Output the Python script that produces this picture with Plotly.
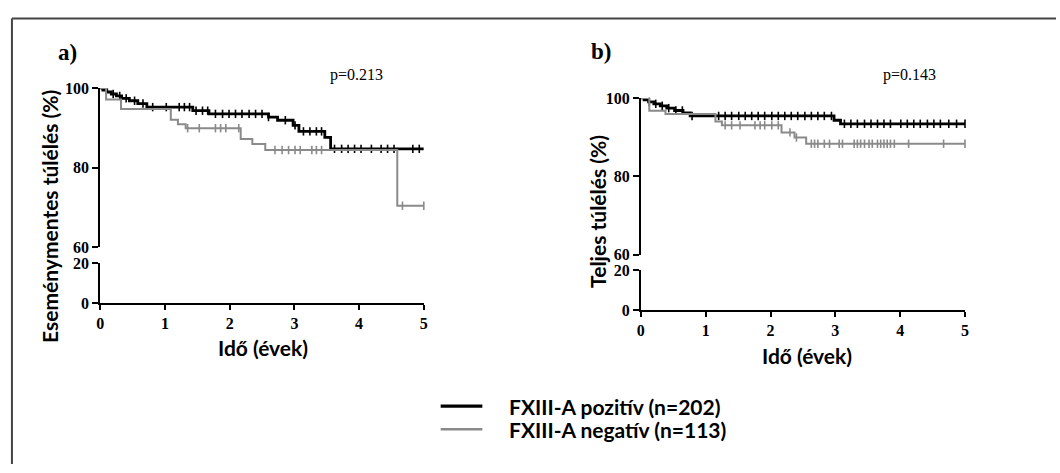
import numpy as np
import plotly.graph_objects as go

W, H = 1060, 473

# ---- Kaplan-Meier step data (time in years, survival in %) ----
# a) event-free survival
a_pos_t = [0, 0.04, 0.10, 0.17, 0.25, 0.33, 0.45, 0.58, 0.72, 1.43, 1.68, 2.60, 2.74, 2.98, 3.07, 3.47, 3.56]
a_pos_s = [100, 99.5, 99.0, 98.5, 98.0, 97.4, 96.8, 96.1, 95.2, 94.3, 93.5, 92.7, 91.9, 90.6, 89.1, 87.6, 84.7]
a_neg_t = [0, 0.09, 0.32, 1.09, 1.20, 1.32, 2.17, 2.35, 2.55, 4.59]
a_neg_s = [100, 97.1, 94.7, 92.0, 90.9, 89.9, 87.2, 85.9, 84.4, 70.4]
a_pos_cens = [0.20, 0.30, 0.40, 0.53, 0.66, 0.81, 1.02, 1.22, 1.30, 1.38, 1.48, 1.58, 1.66, 1.78,
              1.89, 1.99, 2.09, 2.19, 2.30, 2.40, 2.50, 2.60, 2.86, 3.01, 3.14, 3.24, 3.34, 3.42,
              3.62, 3.73, 3.83, 3.93, 4.03, 4.19, 4.34, 4.44, 4.54, 4.83, 4.93]
a_neg_cens = [1.35, 1.53, 1.78, 1.86, 1.94, 2.14, 2.70, 2.81, 2.91, 3.01, 3.09, 3.27, 3.34, 3.42,
              4.67, 5.0]

# b) overall survival
b_pos_t = [0, 0.05, 0.12, 0.20, 0.30, 0.40, 0.52, 0.65, 0.76, 2.98, 3.08]
b_pos_s = [100, 99.5, 99.0, 98.5, 98.0, 97.4, 96.8, 96.2, 95.4, 94.3, 93.4]
b_neg_t = [0, 0.13, 0.38, 1.15, 1.25, 2.17, 2.37, 2.55]
b_neg_s = [100, 96.7, 95.9, 94.0, 93.0, 91.2, 89.9, 88.3]
b_pos_cens = [0.13, 0.23, 0.33, 0.43, 0.54, 0.64, 0.79, 1.20, 1.30, 1.40, 1.51, 1.61, 1.71, 1.81,
              1.91, 2.02, 2.12, 2.22, 2.32, 2.42, 2.53, 2.63, 2.73, 2.83, 2.94, 3.14, 3.24, 3.34,
              3.45, 3.55, 3.65, 3.75, 3.85, 4.01, 4.11, 4.21, 4.31, 4.42, 4.52, 4.62, 4.75, 4.87, 5.0]
b_neg_cens = [1.30, 1.40, 1.53, 1.76, 1.84, 1.91, 2.02, 2.12, 2.30, 2.40, 2.63, 2.68, 2.73, 2.83,
              2.91, 3.06, 3.11, 3.29, 3.34, 3.39, 3.45, 3.52, 3.57, 3.65, 3.70, 3.75, 3.80, 3.85,
              3.91, 4.13, 4.67, 5.0]

x_ticks = [0, 1, 2, 3, 4, 5]
y_top_ticks = [60, 80, 100]
y_bot_ticks = [0, 20]

series_names = ["FXIII-A pozitív (n=202)", "FXIII-A negatív (n=113)"]
series_colors = ["#000000", "#8a8a8a"]
series_widths = [2.8, 2.0]

panel_titles = ["a)", "b)"]
p_values = ["p=0.213", "p=0.143"]
y_titles = ["Eseménymentes túlélés (%)", "Teljes túlélés (%)"]
x_title = "Idő (évek)"
T_MAX = 5


def px(x):
    return x / W


def py(y):
    return 1 - y / H


def step_value(t, s, when):
    idx = np.searchsorted(np.asarray(t), np.asarray(when), side="right") - 1
    return np.asarray(s)[np.clip(idx, 0, len(s) - 1)]


fig = go.Figure()

# panel geometry in pixels: x0, x1 of axis; top segment y(100), y(60); bottom segment y(20), y(0)
panels = [
    dict(x0=97, x1=423, top=(83, 248), bot=(265, 306),
         data=[(a_pos_t, a_pos_s, a_pos_cens), (a_neg_t, a_neg_s, a_neg_cens)],
         label_xy=(64, 46), p_xy=(355, 70), ytitle_xy=(46, 216), xtitle_xy=(261, 352)),
    dict(x0=641.7, x1=968.3, top=(93.3, 255.7), bot=(271.7, 313.3),
         data=[(b_pos_t, b_pos_s, b_pos_cens), (b_neg_t, b_neg_s, b_neg_cens)],
         label_xy=(602, 45), p_xy=(912, 69), ytitle_xy=(598, 211), xtitle_xy=(809, 360)),
]

tick_font = dict(family="Liberation Serif", size=16, color="black", weight="bold")
title_font = dict(family="Lato", size=21, color="black")
ytitle_font = dict(family="Lato", size=21, color="black")
axis_common = dict(showline=True, linecolor="black", linewidth=2, ticks="outside",
                   ticklen=6, tickwidth=2, tickcolor="black", showgrid=False, zeroline=False,
                   tickfont=tick_font, fixedrange=True)

layout_axes = {}
annotations = []
for i, p in enumerate(panels):
    xa = f"xaxis{'' if i == 0 else i + 1}"
    xref = f"x{'' if i == 0 else i + 1}"
    ya_top_n = 2 * i + 1
    ya_bot_n = 2 * i + 2
    ya_top = f"yaxis{'' if ya_top_n == 1 else ya_top_n}"
    ya_bot = f"yaxis{ya_bot_n}"
    yref_top = f"y{'' if ya_top_n == 1 else ya_top_n}"
    yref_bot = f"y{ya_bot_n}"

    layout_axes[xa] = dict(axis_common, domain=[px(p["x0"]), px(p["x1"])], range=[0, T_MAX],
                           tickvals=x_ticks, anchor=yref_bot, ticklen=5)
    layout_axes[ya_top] = dict(axis_common, domain=[py(p["top"][1]), py(p["top"][0])],
                               range=[60, 100], tickvals=y_top_ticks, anchor=xref)
    layout_axes[ya_bot] = dict(axis_common, domain=[py(p["bot"][1]), py(p["bot"][0])],
                               range=[0, 20], tickvals=y_bot_ticks, anchor=xref)

    # empty trace so the lower (0-20) segment of the broken axis is created
    fig.add_trace(go.Scatter(x=[None], y=[None], mode="lines", showlegend=False,
                             hoverinfo="skip", xaxis=xref, yaxis=yref_bot))

    for k, (t, s, cens) in enumerate(p["data"]):
        tx = list(t) + [T_MAX]
        sy = list(s) + [s[-1]]
        fig.add_trace(go.Scatter(x=tx, y=sy, mode="lines", line_shape="hv",
                                 line=dict(color=series_colors[k], width=series_widths[k]),
                                 name=series_names[k], showlegend=False,
                                 xaxis=xref, yaxis=yref_top))
        cy = step_value(t, s, cens)
        fig.add_trace(go.Scatter(x=cens, y=cy, mode="markers", cliponaxis=False,
                                 marker=dict(symbol="line-ns", size=6,
                                             line=dict(color=series_colors[k], width=1.6)),
                                 showlegend=False, hoverinfo="skip",
                                 xaxis=xref, yaxis=yref_top))

    annotations += [
        dict(text=f"<b>{panel_titles[i]}</b>", x=px(p["label_xy"][0]), y=py(p["label_xy"][1]),
             font=dict(family="Liberation Serif", size=23, color="black")),
        dict(text=p_values[i], x=px(p["p_xy"][0]), y=py(p["p_xy"][1]),
             font=dict(family="Liberation Serif", size=16, color="black")),
        dict(text=f"<b>{y_titles[i]}</b>", x=px(p["ytitle_xy"][0]), y=py(p["ytitle_xy"][1]),
             textangle=-90, font=ytitle_font),
        dict(text=f"<b>{x_title}</b>", x=px(p["xtitle_xy"][0]), y=py(p["xtitle_xy"][1]),
             font=title_font),
    ]

# legend drawn beneath the panels
shapes = []
legend_rows = [413, 437]
for k in range(2):
    shapes.append(dict(type="line", xref="paper", yref="paper",
                       x0=px(440), x1=px(482), y0=py(legend_rows[k]), y1=py(legend_rows[k]),
                       line=dict(color=series_colors[k], width=series_widths[k] + 0.4)))
    annotations.append(dict(text=f"<b>{series_names[k]}</b>", x=px(507), y=py(legend_rows[k]),
                            xanchor="left", font=dict(family="Lato", size=21, color="black")))

# frame lines along the top and left edges
shapes.append(dict(type="line", xref="paper", yref="paper", x0=px(8), x1=1, y0=py(11), y1=py(11),
                   line=dict(color="#444444", width=2)))
shapes.append(dict(type="line", xref="paper", yref="paper", x0=px(8), x1=px(8), y0=0, y1=py(11),
                   line=dict(color="#444444", width=2)))

for a in annotations:
    a.update(xref="paper", yref="paper", showarrow=False)
    a.setdefault("xanchor", "center")
    a.setdefault("yanchor", "middle")

fig.update_layout(width=W, height=H, margin=dict(l=0, r=0, t=0, b=0),
                  paper_bgcolor="white", plot_bgcolor="white", showlegend=False,
                  annotations=annotations, shapes=shapes, **layout_axes)

fig.write_html("out.html", config={"displayModeBar": False})
